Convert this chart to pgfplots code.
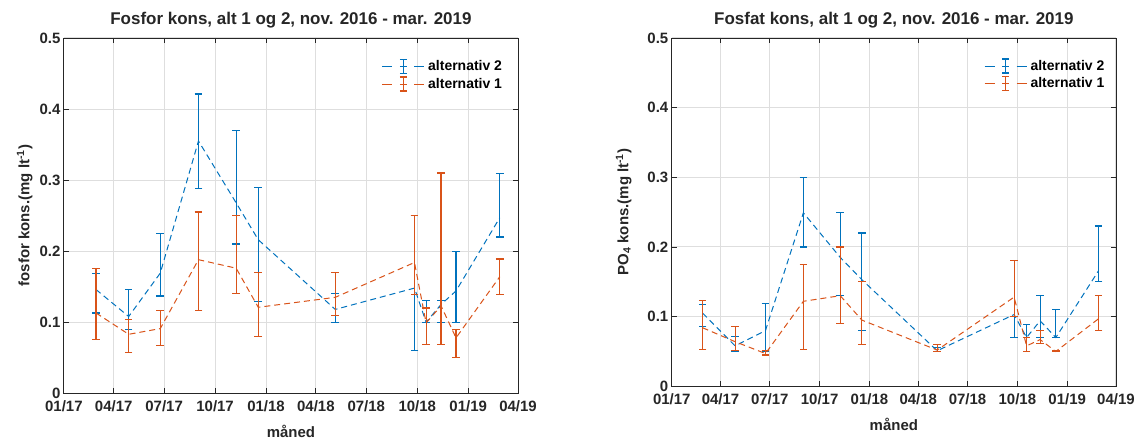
\documentclass[border=0pt]{standalone}
\usepackage{fontspec}
\setmainfont{Liberation Sans}
\usepackage{pgfplots}
\pgfplotsset{compat=1.18}
\usepackage{pgfplotstable}
\definecolor{mblue}{rgb}{0,0.447,0.741}
\definecolor{morange}{rgb}{0.85,0.325,0.098}

% day since 2017-01-01; by/bt/bb = alternativ 2 mean/top/bottom; oy/ot/ob = alternativ 1
\pgfplotstableread{
d   by    bt    bb    oy    ot    ob
58  0.146 0.169 0.113 0.113 0.176 0.076
117 0.108 0.146 0.090 0.083 0.104 0.057
174 0.169 0.225 0.137 0.091 0.116 0.067
243 0.355 0.421 0.288 0.188 0.255 0.116
311 0.268 0.370 0.210 0.176 0.250 0.140
351 0.216 0.290 0.129 0.121 0.170 0.080
490 0.118 0.140 0.100 0.135 0.170 0.110
633 0.148 0.250 0.060 0.184 0.250 0.139
654 0.100 0.130 0.100 0.099 0.120 0.069
681 0.125 0.130 0.100 0.123 0.310 0.069
708 0.144 0.199 0.100 0.078 0.090 0.050
787 0.247 0.309 0.220 0.164 0.189 0.139
}\fosfor

\pgfplotstableread{
d   by    bt    bb    oy    ot    ob
57  0.105 0.117 0.086 0.084 0.123 0.053
117 0.058 0.071 0.050 0.064 0.086 0.051
173 0.080 0.119 0.050 0.047 0.051 0.045
243 0.249 0.300 0.200 0.122 0.175 0.053
311 0.185 0.250 0.130 0.130 0.200 0.090
351 0.153 0.220 0.080 0.095 0.150 0.060
490 0.051 0.056 0.050 0.052 0.060 0.050
632 0.103 0.180 0.070 0.128 0.180 0.100
655 0.070 0.089 0.070 0.058 0.070 0.050
680 0.094 0.130 0.070 0.067 0.080 0.061
709 0.070 0.110 0.070 0.050 0.051 0.050
788 0.166 0.230 0.150 0.097 0.130 0.080
}\fosfat

\pgfplotsset{
  mystyle/.style={
    scale only axis,
    xmin=0, xmax=820, ymin=0, ymax=0.5,
    xtick={0,90,181,273,365,455,546,638,730,820},
    xticklabels={01/17,04/17,07/17,10/17,01/18,04/18,07/18,10/18,01/19,04/19},
    ytick={0,0.1,0.2,0.3,0.4,0.5},
    yticklabel style={/pgf/number format/.cd, fixed, precision=1},
    xticklabel style={yshift=-4pt},
    /pgf/number format/assume math mode=true,
    tick label style={font=\fontsize{15}{17}\selectfont\bfseries, black!85},
    label style={font=\fontsize{15}{17}\selectfont\bfseries, black!85},
    title style={font=\fontsize{17}{19}\selectfont\bfseries, black!85},
    grid=major, major grid style={black!13, line width=1pt},
    tick align=inside, xtick pos=both, ytick pos=both, major tick length=5pt,
    axis line style={black!85, line width=0.8pt},
    every tick/.style={black!85, line width=0.8pt},
    legend style={draw=none, fill=none, font=\fontsize{14}{16}\selectfont\bfseries,
      anchor=north west, row sep=2pt, nodes={inner xsep=3.5pt}},
    legend cell align=left,
    legend image code/.code={
      \draw[##1, solid, line width=1pt] (0pt,0pt) -- (10pt,0pt) (32pt,0pt) -- (42pt,0pt) (17.5pt,0pt) -- (24.5pt,0pt);
      \draw[##1, solid, line width=1.2pt] (21pt,-7pt) -- (21pt,7pt) (17.5pt,-7pt) -- (24.5pt,-7pt) (17.5pt,7pt) -- (24.5pt,7pt);
    },
  },
  ser/.style={#1, line width=1pt, dash pattern=on 6pt off 4pt, no markers,
    error bars/.cd, y dir=both, y explicit, error mark=|,
    error bar style={solid, line width=1.2pt, #1},
    error mark options={solid, line width=1.2pt, mark size=3.8pt, #1}},
}

\begin{document}
\begin{tikzpicture}
\path (0,0) rectangle (1138pt,-442pt);

\begin{axis}[mystyle, at={(64pt,-394pt)}, anchor=south west,
  width=455pt, height=356pt,
  title={Fosfor kons, alt 1 og 2, nov. 2016 - mar. 2019},
  xlabel={måned}, ylabel={fosfor kons.(mg lt\textsuperscript{-1})},
  xlabel style={at={(axis description cs:0.5,-0.107)}, anchor=center},
  ylabel style={at={(axis description cs:-0.086,0.5)}, anchor=center},
  legend style={at={(0.693,0.948)}}]
\addplot[ser=mblue] table[x=d, y=by, y error plus expr=\thisrow{bt}-\thisrow{by}, y error minus expr=\thisrow{by}-\thisrow{bb}] {\fosfor};
\addlegendentry{alternativ 2}
\addplot[ser=morange] table[x=d, y=oy, y error plus expr=\thisrow{ot}-\thisrow{oy}, y error minus expr=\thisrow{oy}-\thisrow{ob}] {\fosfor};
\addlegendentry{alternativ 1}
\end{axis}

\begin{axis}[mystyle, at={(673pt,-387pt)}, anchor=south west,
  width=445pt, height=349pt,
  title={Fosfat kons, alt 1 og 2, nov. 2016 - mar. 2019},
  xlabel={måned}, ylabel={PO\textsubscript{4} kons.(mg lt\textsuperscript{-1})},
  xlabel style={at={(axis description cs:0.5,-0.109)}, anchor=center},
  ylabel style={at={(axis description cs:-0.108,0.5)}, anchor=center},
  legend style={at={(0.696,0.948)}}]
\addplot[ser=mblue] table[x=d, y=by, y error plus expr=\thisrow{bt}-\thisrow{by}, y error minus expr=\thisrow{by}-\thisrow{bb}] {\fosfat};
\addlegendentry{alternativ 2}
\addplot[ser=morange] table[x=d, y=oy, y error plus expr=\thisrow{ot}-\thisrow{oy}, y error minus expr=\thisrow{oy}-\thisrow{ob}] {\fosfat};
\addlegendentry{alternativ 1}
\end{axis}
\end{tikzpicture}
\end{document}
